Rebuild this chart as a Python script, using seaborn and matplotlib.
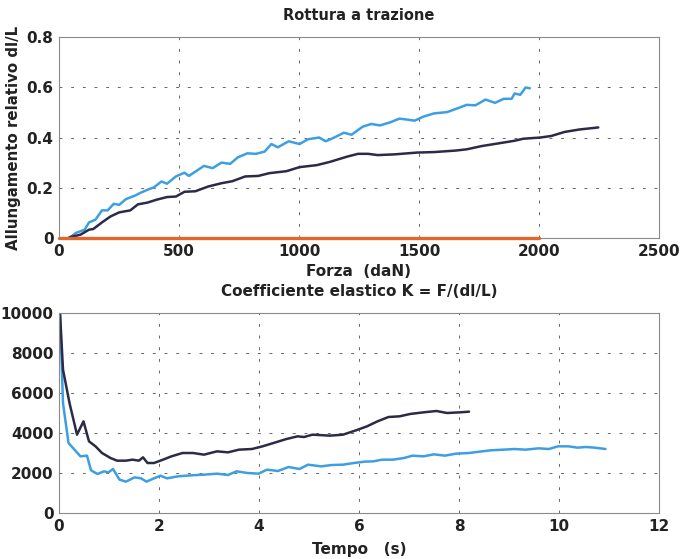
import numpy as np
import pandas as pd
import matplotlib
matplotlib.use("Agg")
import matplotlib.pyplot as plt
import seaborn as sns

# ---------------- data ----------------
top_blue_x = [43, 70, 107, 125, 152, 179, 203, 228, 251, 279, 315, 342, 369, 396, 427, 450, 487, 523, 541,
              568, 604, 640, 677, 713, 745, 785, 821, 857, 885, 912, 957, 1002, 1038, 1084, 1111, 1147, 1187,
              1219, 1265, 1301, 1337, 1382, 1418, 1445, 1482, 1518, 1563, 1617, 1663, 1699, 1735, 1777, 1817,
              1853, 1886, 1898, 1922, 1944, 1962]
top_blue_y = [0.0, 0.02, 0.033, 0.062, 0.073, 0.11, 0.11, 0.136, 0.132, 0.155, 0.168, 0.181, 0.192, 0.202,
              0.225, 0.216, 0.245, 0.26, 0.247, 0.264, 0.287, 0.278, 0.30, 0.295, 0.321, 0.337, 0.335, 0.344,
              0.374, 0.361, 0.385, 0.374, 0.393, 0.40, 0.385, 0.40, 0.419, 0.411, 0.443, 0.454, 0.448, 0.461,
              0.475, 0.472, 0.467, 0.483, 0.496, 0.501, 0.517, 0.530, 0.528, 0.551, 0.538, 0.554, 0.554, 0.575,
              0.570, 0.599, 0.596]

top_dark_x = [43, 89, 125, 143, 179, 215, 251, 297, 329, 369, 405, 450, 487, 523, 568, 622, 677, 722, 776,
              830, 876, 948, 1002, 1074, 1129, 1201, 1246, 1288, 1328, 1400, 1491, 1563, 1653, 1699, 1762,
              1853, 1898, 1934, 2006, 2051, 2106, 2169, 2247]
top_dark_y = [0.003, 0.013, 0.033, 0.036, 0.062, 0.086, 0.102, 0.11, 0.134, 0.141, 0.152, 0.163, 0.165,
              0.184, 0.186, 0.205, 0.218, 0.226, 0.245, 0.247, 0.258, 0.266, 0.282, 0.29, 0.303, 0.324, 0.335,
              0.335, 0.330, 0.333, 0.340, 0.342, 0.348, 0.353, 0.366, 0.38, 0.387, 0.395, 0.40, 0.406, 0.422,
              0.432, 0.44]

top_orange_x = [0, 2000]
top_orange_y = [0, 0]

bot_dark_t = [0.02, 0.08, 0.21, 0.36, 0.49, 0.6, 0.73, 0.86, 1.03, 1.16, 1.34, 1.47, 1.6, 1.68, 1.77, 1.9,
              2.08, 2.25, 2.47, 2.68, 2.9, 3.16, 3.38, 3.6, 3.86, 4.07, 4.29, 4.55, 4.77, 4.9, 5.07, 5.42,
              5.68, 5.94, 6.16, 6.37, 6.59, 6.81, 7.02, 7.29, 7.55, 7.76, 8.02, 8.2]
bot_dark_k = [10000, 7167, 5500, 3917, 4583, 3583, 3333, 3000, 2750, 2617, 2617, 2667, 2617, 2783, 2500,
              2500, 2667, 2833, 3000, 3000, 2917, 3083, 3033, 3167, 3200, 3333, 3500, 3700, 3833, 3800, 3917,
              3867, 3917, 4133, 4333, 4583, 4800, 4833, 4950, 5033, 5100, 5000, 5033, 5067]

bot_blue_t = [0.02, 0.08, 0.19, 0.34, 0.43, 0.56, 0.64, 0.77, 0.9, 0.99, 1.08, 1.21, 1.34, 1.51, 1.64,
              1.75, 1.9, 2.03, 2.16, 2.38, 2.64, 2.9, 3.16, 3.38, 3.55, 3.77, 3.99, 4.16, 4.38, 4.59, 4.81,
              4.98, 5.24, 5.46, 5.68, 5.9, 6.11, 6.29, 6.46, 6.68, 6.9, 7.07, 7.29, 7.5, 7.72, 7.94, 8.2,
              8.41, 8.63, 8.89, 9.11, 9.33, 9.59, 9.8, 9.98, 10.19, 10.37, 10.54, 10.71, 10.93]
bot_blue_k = [10000, 5500, 3500, 3083, 2833, 2867, 2133, 1950, 2083, 2033, 2200, 1667, 1567, 1783, 1733,
              1567, 1733, 1867, 1733, 1833, 1883, 1917, 1967, 1900, 2083, 2000, 1967, 2167, 2100, 2300, 2200,
              2417, 2333, 2400, 2417, 2500, 2567, 2583, 2667, 2667, 2750, 2867, 2833, 2933, 2867, 2967, 3000,
              3067, 3133, 3167, 3200, 3167, 3233, 3200, 3333, 3333, 3267, 3300, 3267, 3200]

top_xticks = [0, 500, 1000, 1500, 2000, 2500]
top_yticks = [0, 0.2, 0.4, 0.6, 0.8]
top_yticklabels = ["0", "0.2", "0.4", "0.6", "0.8"]
bot_xticks = [0, 2, 4, 6, 8, 10, 12]
bot_yticks = [0, 2000, 4000, 6000, 8000, 10000]

BLUE = "#3d9fe2"
DARK = "#2b2b48"
ORANGE = "#e2652c"
TXT = "#222222"

# ---------------- style ----------------
sns.set_theme(style="white")
plt.rcParams['font.family'] = ['DejaVu Sans']
plt.rcParams['font.weight'] = 'bold'

fig = plt.figure(figsize=(6.8, 5.59), dpi=100)
ax1 = fig.add_axes([59/680, 1-238/559, 600/680, 201/559])
ax2 = fig.add_axes([59/680, 1-513/559, 600/680, 200/559])

def style_axes(ax):
    for s in ax.spines.values():
        s.set_color("#8a8a8a")
        s.set_linewidth(0.8)
    ax.grid(True, linestyle=(0, (3, 9)), color="#666666", linewidth=0.7)
    ax.tick_params(axis="both", direction="in", length=3, color="#888888",
                   labelsize=11, labelcolor=TXT, pad=4)
    for lab in ax.get_xticklabels() + ax.get_yticklabels():
        lab.set_fontweight("bold")

# top
df_tb = pd.DataFrame({"x": top_blue_x, "y": top_blue_y})
df_td = pd.DataFrame({"x": top_dark_x, "y": top_dark_y})
df_to = pd.DataFrame({"x": top_orange_x, "y": top_orange_y})
sns.lineplot(data=df_tb, x="x", y="y", ax=ax1, color=BLUE, linewidth=1.8, sort=False, estimator=None)
sns.lineplot(data=df_td, x="x", y="y", ax=ax1, color=DARK, linewidth=1.8, sort=False, estimator=None)
sns.lineplot(data=df_to, x="x", y="y", ax=ax1, color=ORANGE, linewidth=2.4, sort=False, estimator=None)
ax1.lines[-1].set_clip_on(False)
ax1.lines[-1].set_zorder(5)
ax1.set_xlim(0, 2500)
ax1.set_ylim(0, 0.8)
ax1.set_xticks(top_xticks)
ax1.set_yticks(top_yticks)
ax1.set_yticklabels(top_yticklabels)
ax1.set_title("Rottura a trazione", fontsize=10.5, fontweight="bold", color=TXT, pad=12)
ax1.set_xlabel("Forza  (daN)", fontsize=11, fontweight="bold", color=TXT, labelpad=4)
ax1.set_ylabel("Allungamento relativo dl/L", fontsize=10.8, fontweight="bold", color=TXT, labelpad=4)
style_axes(ax1)

# bottom
df_bd = pd.DataFrame({"t": bot_dark_t, "k": bot_dark_k})
df_bb = pd.DataFrame({"t": bot_blue_t, "k": bot_blue_k})
sns.lineplot(data=df_bb, x="t", y="k", ax=ax2, color=BLUE, linewidth=1.8, sort=False, estimator=None)
sns.lineplot(data=df_bd, x="t", y="k", ax=ax2, color=DARK, linewidth=1.8, sort=False, estimator=None)
ax2.set_xlim(0, 12)
ax2.set_ylim(0, 10000)
ax2.set_xticks(bot_xticks)
ax2.set_yticks(bot_yticks)
ax2.set_title("Coefficiente elastico K = F/(dl/L)", fontsize=11, fontweight="bold", color=TXT, pad=12)
ax2.set_xlabel("Tempo   (s)", fontsize=11, fontweight="bold", color=TXT, labelpad=6)
ax2.set_ylabel("")
style_axes(ax2)

fig.savefig("out.png", dpi=100, facecolor="white")
